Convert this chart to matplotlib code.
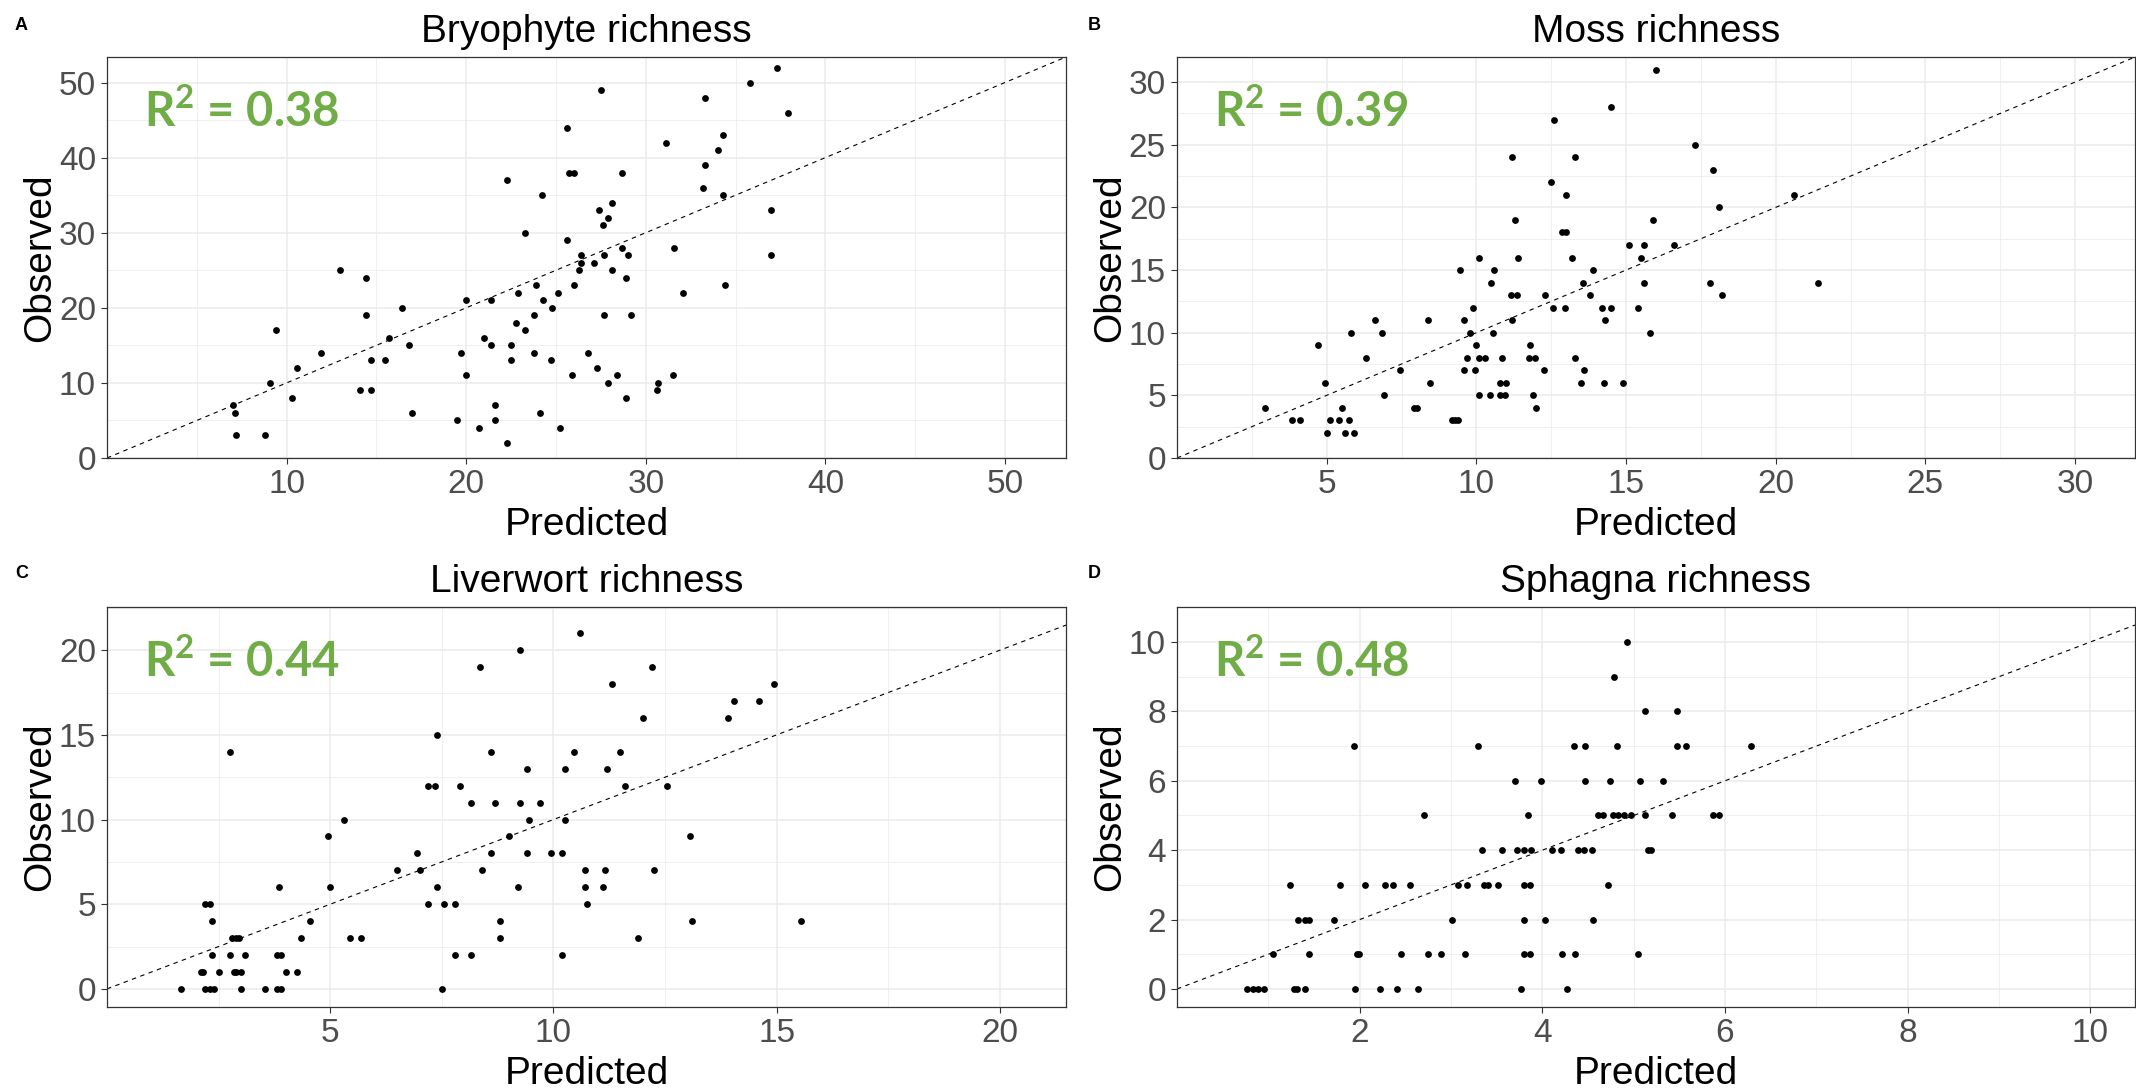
import matplotlib
matplotlib.use("Agg")
import matplotlib.pyplot as plt
from matplotlib.ticker import MultipleLocator

plt.rcParams['font.family'] = ['Liberation Sans', 'DejaVu Sans']
plt.rcParams['mathtext.fontset'] = 'custom'
plt.rcParams['mathtext.rm'] = 'Lato:bold'
plt.rcParams['mathtext.it'] = 'Lato:bold'
plt.rcParams['mathtext.bf'] = 'Lato:bold'

# ---------------- data ----------------
titles = ["Bryophyte richness", "Moss richness", "Liverwort richness", "Sphagna richness"]
panel_letters = ["A", "B", "C", "D"]
r2_values = ["0.38", "0.39", "0.44", "0.48"]

bryo_pred = [
    37.3, 35.8, 27.5, 33.3, 37.9, 25.6, 34.3, 31.1, 34.0, 33.3,
    25.7, 26.0, 28.7, 22.3, 33.2, 24.2, 34.3, 28.1, 27.4, 37.0,
    27.9, 27.6, 23.3, 25.6, 28.7, 31.6, 26.4, 27.7, 29.0, 37.0,
    26.4, 27.1, 13.0, 26.3, 28.1, 14.4, 28.9, 23.9, 26.0, 34.4,
    22.9, 25.1, 32.1, 20.0, 21.4, 24.3, 16.4, 24.8, 14.4, 23.8,
    27.7, 29.2, 22.8, 9.4, 23.3, 15.7, 21.0, 16.8, 21.4, 22.5,
    11.9, 19.7, 23.8, 26.8, 14.7, 15.5, 22.5, 24.7, 10.6, 27.3,
    20.0, 25.9, 28.4, 31.5, 9.1, 27.9, 30.7, 14.1, 14.7, 30.6,
    10.3, 28.9, 7.0, 21.6, 7.1, 17.0, 24.1, 19.5, 21.6, 20.7,
    25.2, 7.2, 8.8, 22.3]
bryo_obs = [
    52, 50, 49, 48, 46, 44, 43, 42, 41, 39,
    38, 38, 38, 37, 36, 35, 35, 34, 33, 33,
    32, 31, 30, 29, 28, 28, 27, 27, 27, 27,
    26, 26, 25, 25, 25, 24, 24, 23, 23, 23,
    22, 22, 22, 21, 21, 21, 20, 20, 19, 19,
    19, 19, 18, 17, 17, 16, 16, 15, 15, 15,
    14, 14, 14, 14, 13, 13, 13, 13, 12, 12,
    11, 11, 11, 11, 10, 10, 10, 9, 9, 9,
    8, 8, 7, 7, 6, 6, 6, 5, 5, 4,
    4, 3, 3, 2]

moss_pred = [
    16.0, 14.5, 12.6, 17.3, 11.2, 13.3, 17.9, 12.5, 13.0, 20.6,
    18.1, 11.3, 15.9, 12.85, 13.0, 15.1, 15.6, 16.6, 10.1, 11.4,
    13.2, 15.5, 9.45, 10.6, 13.9, 10.5, 13.55, 15.6, 17.8, 21.4,
    11.15, 11.35, 12.3, 13.8, 18.2, 9.9, 12.55, 12.95, 14.2, 14.5,
    15.4, 6.6, 8.4, 9.6, 11.2, 14.3, 5.8, 6.85, 9.8, 10.55,
    15.8, 4.7, 10.0, 11.8, 6.3, 9.7, 10.1, 10.3, 10.85, 11.75,
    11.95, 13.3, 7.45, 9.6, 9.95, 12.25, 13.6, 4.95, 8.45, 10.8,
    11.0, 13.5, 14.25, 14.9, 6.9, 10.1, 10.45, 10.8, 10.95, 11.9,
    2.95, 5.5, 7.9, 8.0, 12.0, 3.85, 4.1, 5.1, 5.4, 5.75,
    9.2, 9.3, 9.4, 5.0, 5.6, 5.9]
moss_obs = [
    31, 28, 27, 25, 24, 24, 23, 22, 21, 21,
    20, 19, 19, 18, 18, 17, 17, 17, 16, 16,
    16, 16, 15, 15, 15, 14, 14, 14, 14, 14,
    13, 13, 13, 13, 13, 12, 12, 12, 12, 12,
    12, 11, 11, 11, 11, 11, 10, 10, 10, 10,
    10, 9, 9, 9, 8, 8, 8, 8, 8, 8,
    8, 8, 7, 7, 7, 7, 7, 6, 6, 6,
    6, 6, 6, 6, 5, 5, 5, 5, 5, 5,
    4, 4, 4, 4, 4, 3, 3, 3, 3, 3,
    3, 3, 3, 2, 2, 2]

liver_pred = [
    10.6, 9.25, 8.35, 12.2, 11.3, 14.95, 14.05, 14.6, 12.0, 13.9,
    7.4, 2.75, 8.6, 10.45, 11.5, 9.4, 10.25, 11.2, 7.2, 7.35,
    7.9, 11.6, 12.55, 8.15, 8.7, 9.25, 9.7, 5.3, 9.45, 10.25,
    4.95, 9.0, 13.05, 6.95, 8.6, 9.4, 9.95, 10.2, 6.5, 7.0,
    8.4, 10.7, 11.15, 12.25, 3.85, 5.0, 7.4, 9.2, 10.7, 11.1,
    2.2, 2.3, 7.2, 7.55, 7.8, 10.75, 2.35, 4.55, 8.8, 13.1,
    15.55, 2.8, 2.9, 2.95, 4.35, 5.45, 5.7, 8.8, 11.9, 2.35,
    2.75, 3.1, 3.8, 3.9, 7.8, 8.15, 10.2, 2.1, 2.15, 2.5,
    2.85, 2.9, 3.0, 4.0, 4.25, 1.65, 2.2, 2.3, 2.4, 3.0,
    3.55, 3.8, 3.9, 7.5]
liver_obs = [
    21, 20, 19, 19, 18, 18, 17, 17, 16, 16,
    15, 14, 14, 14, 14, 13, 13, 13, 12, 12,
    12, 12, 12, 11, 11, 11, 11, 10, 10, 10,
    9, 9, 9, 8, 8, 8, 8, 8, 7, 7,
    7, 7, 7, 7, 6, 6, 6, 6, 6, 6,
    5, 5, 5, 5, 5, 5, 4, 4, 4, 4,
    4, 3, 3, 3, 3, 3, 3, 3, 3, 2,
    2, 2, 2, 2, 2, 2, 2, 1, 1, 1,
    1, 1, 1, 1, 1, 0, 0, 0, 0, 0,
    0, 0, 0, 0]

sph_pred = [
    4.93, 4.79, 5.12, 5.47, 1.94, 3.30, 4.35, 4.47, 4.82, 5.48,
    5.57, 6.29, 3.70, 3.99, 4.47, 4.74, 5.07, 5.32, 2.71, 3.84,
    4.61, 4.67, 4.77, 4.83, 4.90, 4.97, 5.13, 5.42, 5.87, 5.94,
    3.34, 3.56, 3.72, 3.80, 3.88, 4.11, 4.20, 4.39, 4.46, 4.54,
    5.16, 5.19, 1.24, 1.78, 2.06, 2.28, 2.37, 2.55, 3.08, 3.17,
    3.36, 3.40, 3.51, 3.80, 3.87, 4.72, 1.33, 1.40, 1.45, 1.72,
    3.01, 3.80, 4.03, 4.56, 1.05, 1.44, 1.97, 1.99, 2.45, 2.75,
    2.89, 3.15, 3.80, 3.87, 4.22, 4.36, 5.05, 0.77, 0.83, 0.89,
    0.95, 1.28, 1.31, 1.40, 1.95, 2.22, 2.41, 2.64, 3.77, 4.27]
sph_obs = [
    10, 9, 8, 8, 7, 7, 7, 7, 7, 7,
    7, 7, 6, 6, 6, 6, 6, 6, 5, 5,
    5, 5, 5, 5, 5, 5, 5, 5, 5, 5,
    4, 4, 4, 4, 4, 4, 4, 4, 4, 4,
    4, 4, 3, 3, 3, 3, 3, 3, 3, 3,
    3, 3, 3, 3, 3, 3, 2, 2, 2, 2,
    2, 2, 2, 2, 1, 1, 1, 1, 1, 1,
    1, 1, 1, 1, 1, 1, 1, 0, 0, 0,
    0, 0, 0, 0, 0, 0, 0, 0, 0, 0]

# axis limits and tick spacing for each panel
xlims = [(0, 53.4), (0, 32.0), (0, 21.48), (0, 10.49)]
ylims = [(0, 53.4), (0, 32.0), (-1.07, 22.55), (-0.52, 11.01)]
x_major = [10, 5, 5, 2]
y_major = [10, 5, 5, 2]

# ---------------- figure ----------------
W, H = 2136, 1090
fig = plt.figure(figsize=(W / 100, H / 100), dpi=100)

# panel rectangles in pixels: left, top, right, bottom
rects = [(107, 57, 1066, 458), (1177, 57, 2135, 458),
         (107, 607, 1066, 1007), (1177, 607, 2135, 1007)]
letter_pos = [(15, 17), (1088, 17), (15, 565), (1088, 565)]

series = [(bryo_pred, bryo_obs), (moss_pred, moss_obs),
          (liver_pred, liver_obs), (sph_pred, sph_obs)]

GRID = "#EBEBEB"
for i in range(4):
    l, t, r, b = rects[i]
    ax = fig.add_axes([l / W, 1 - b / H, (r - l) / W, (b - t) / H])
    xs, ys = series[i]
    ax.set_axisbelow(True)
    ax.scatter(xs, ys, s=24, c="black", linewidths=0, zorder=3)
    ax.axline((0, 0), slope=1, color="black", lw=0.8, ls=(0, (4, 4)), zorder=2)
    ax.set_xlim(*xlims[i])
    ax.set_ylim(*ylims[i])
    ax.xaxis.set_major_locator(MultipleLocator(x_major[i]))
    ax.xaxis.set_minor_locator(MultipleLocator(x_major[i] / 2))
    ax.yaxis.set_major_locator(MultipleLocator(y_major[i]))
    ax.yaxis.set_minor_locator(MultipleLocator(y_major[i] / 2))
    xt = [v for v in ax.get_xticks() if xlims[i][0] + 1e-6 < v <= xlims[i][1]]
    ax.set_xticks(xt)
    ax.grid(which="major", color=GRID, lw=1.1)
    ax.grid(which="minor", color=GRID, lw=0.55)
    ax.tick_params(which="major", direction="out", length=4, width=0.8,
                   color="#333333", labelcolor="#4D4D4D", labelsize=24, pad=4)
    ax.tick_params(which="minor", length=0)
    for s in ax.spines.values():
        s.set_color("#333333")
        s.set_linewidth(0.9)
    ax.set_title(titles[i], fontsize=28, pad=10.5)
    ax.set_xlabel("Predicted", fontsize=28)
    ax.set_ylabel("Observed", fontsize=28)
    hh = b - t
    ax.xaxis.set_label_coords(0.5, -(507 - 458) / hh)
    ax.yaxis.set_label_coords(-(107 - 58) / 959, 0.5)
    ax.text(0.039, 0.828, r"$\mathrm{R}^{2}$ = " + r2_values[i],
            transform=ax.transAxes, fontsize=34,
            fontweight="bold", color="#70AD47", family=["Lato", "DejaVu Sans"],
            ha="left", va="baseline", zorder=4)
    lx, ly = letter_pos[i]
    fig.text(lx / W, 1 - ly / H, panel_letters[i], fontsize=13,
             fontweight="bold", ha="left", va="top")

fig.savefig("out.png", dpi=100)
